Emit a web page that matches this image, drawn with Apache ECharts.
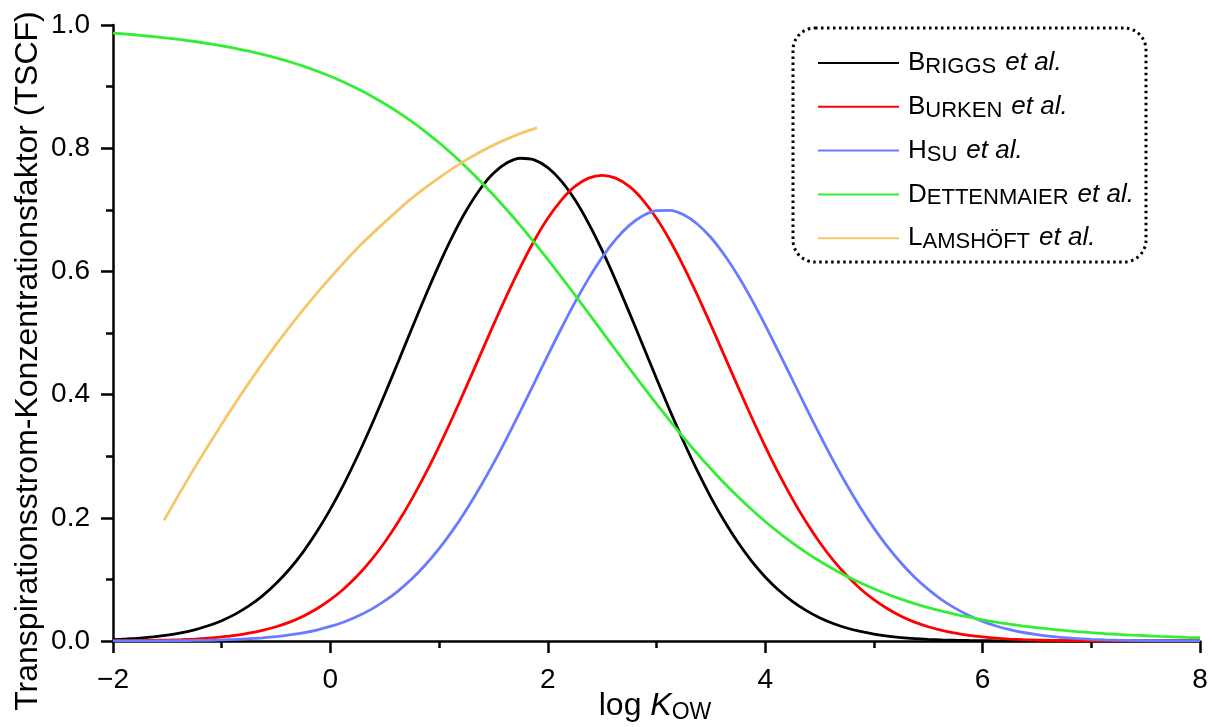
<!DOCTYPE html>
<html>
<head>
<meta charset="utf-8">
<title>TSCF vs log Kow</title>
<script src="https://cdn.jsdelivr.net/npm/echarts@6/dist/echarts.min.js"></script>
<style>
  html, body { margin: 0; padding: 0; background: #fff; }
  #chart { width: 1212px; height: 727px; }
</style>
</head>
<body>
<div id="chart"></div>
<script>
// log Kow sample positions shared by the four model curves (step 0.125)
const logK = [-2, -1.875, -1.75, -1.625, -1.5, -1.375, -1.25, -1.125, -1, -0.875, -0.75, -0.625,
  -0.5, -0.375, -0.25, -0.125, 0, 0.125, 0.25, 0.375, 0.5, 0.625, 0.75, 0.875,
  1, 1.125, 1.25, 1.375, 1.5, 1.625, 1.75, 1.875, 2, 2.125, 2.25, 2.375,
  2.5, 2.625, 2.75, 2.875, 3, 3.125, 3.25, 3.375, 3.5, 3.625, 3.75, 3.875,
  4, 4.125, 4.25, 4.375, 4.5, 4.625, 4.75, 4.875, 5, 5.125, 5.25, 5.375,
  5.5, 5.625, 5.75, 5.875, 6, 6.125, 6.25, 6.375, 6.5, 6.625, 6.75, 6.875,
  7, 7.125, 7.25, 7.375, 7.5, 7.625, 7.75, 7.875, 8];

const briggs = [0.0022, 0.0033, 0.0048, 0.0068, 0.0095, 0.0133, 0.0182, 0.0247, 0.0330, 0.0436, 0.0569, 0.0732,
  0.0932, 0.1169, 0.1448, 0.1772, 0.2140, 0.2551, 0.3003, 0.3491, 0.4006, 0.4538, 0.5076, 0.5605,
  0.6110, 0.6576, 0.6988, 0.7330, 0.7592, 0.7763, 0.7837, 0.7811, 0.7686, 0.7467, 0.7162, 0.6781,
  0.6340, 0.5851, 0.5331, 0.4797, 0.4260, 0.3735, 0.3234, 0.2764, 0.2332, 0.1943, 0.1598, 0.1298,
  0.1040, 0.0823, 0.0643, 0.0497, 0.0378, 0.0284, 0.0211, 0.0155, 0.0112, 0.0080, 0.0056, 0.0039,
  0.0027, 0.0018, 0.0012, 0.0008, 0.0005, 0.0003, 0.0002, 0.0001, 0.0001, 0.0001, 0.0000, 0.0000,
  0.0000, 0.0000, 0.0000, 0.0000, 0.0000, 0.0000, 0.0000, 0.0000, 0.0000];

const burken = [0.0003, 0.0005, 0.0007, 0.0010, 0.0015, 0.0022, 0.0032, 0.0046, 0.0066, 0.0091, 0.0126, 0.0172,
  0.0231, 0.0307, 0.0403, 0.0523, 0.0670, 0.0849, 0.1062, 0.1313, 0.1604, 0.1935, 0.2307, 0.2716,
  0.3161, 0.3633, 0.4126, 0.4629, 0.5131, 0.5619, 0.6079, 0.6498, 0.6862, 0.7158, 0.7379, 0.7514,
  0.7560, 0.7514, 0.7379, 0.7158, 0.6862, 0.6498, 0.6079, 0.5619, 0.5131, 0.4629, 0.4126, 0.3633,
  0.3161, 0.2716, 0.2307, 0.1935, 0.1604, 0.1313, 0.1062, 0.0849, 0.0670, 0.0523, 0.0403, 0.0307,
  0.0231, 0.0172, 0.0126, 0.0091, 0.0066, 0.0046, 0.0032, 0.0022, 0.0015, 0.0010, 0.0007, 0.0005,
  0.0003, 0.0002, 0.0001, 0.0001, 0.0000, 0.0000, 0.0000, 0.0000, 0.0000];

const hsu = [0.0001, 0.0001, 0.0002, 0.0003, 0.0004, 0.0006, 0.0009, 0.0012, 0.0018, 0.0026, 0.0037, 0.0052,
  0.0071, 0.0098, 0.0133, 0.0178, 0.0236, 0.0309, 0.0401, 0.0513, 0.0650, 0.0815, 0.1010, 0.1237,
  0.1499, 0.1795, 0.2127, 0.2491, 0.2884, 0.3303, 0.3740, 0.4188, 0.4637, 0.5077, 0.5496, 0.5883,
  0.6228, 0.6519, 0.6747, 0.6905, 0.6988, 0.6992, 0.6919, 0.6770, 0.6550, 0.6266, 0.5928, 0.5545,
  0.5128, 0.4691, 0.4242, 0.3794, 0.3354, 0.2933, 0.2536, 0.2168, 0.1833, 0.1532, 0.1267, 0.1035,
  0.0837, 0.0669, 0.0529, 0.0413, 0.0319, 0.0244, 0.0184, 0.0138, 0.0102, 0.0074, 0.0054, 0.0038,
  0.0027, 0.0019, 0.0013, 0.0009, 0.0006, 0.0004, 0.0003, 0.0002, 0.0001];

const dettenmaier = [0.9867, 0.9851, 0.9832, 0.9811, 0.9788, 0.9762, 0.9732, 0.9699, 0.9662, 0.9621, 0.9575, 0.9524,
  0.9466, 0.9403, 0.9332, 0.9253, 0.9167, 0.9071, 0.8965, 0.8849, 0.8721, 0.8582, 0.8431, 0.8266,
  0.8088, 0.7897, 0.7691, 0.7473, 0.7240, 0.6996, 0.6739, 0.6471, 0.6194, 0.5908, 0.5617, 0.5321,
  0.5023, 0.4724, 0.4428, 0.4136, 0.3849, 0.3571, 0.3301, 0.3043, 0.2796, 0.2562, 0.2341, 0.2134,
  0.1940, 0.1760, 0.1594, 0.1440, 0.1299, 0.1170, 0.1052, 0.0945, 0.0847, 0.0759, 0.0680, 0.0608,
  0.0543, 0.0485, 0.0433, 0.0386, 0.0344, 0.0306, 0.0273, 0.0243, 0.0216, 0.0192, 0.0171, 0.0152,
  0.0135, 0.0120, 0.0107, 0.0095, 0.0085, 0.0075, 0.0067, 0.0059, 0.0053];

// Lamshöft curve covers only part of the range
const lamshoftLogK = [-1.53, -1.25, -1, -0.75, -0.5, -0.25, 0, 0.25, 0.5, 0.75, 1, 1.25, 1.5, 1.75, 1.9];
const lamshoft = [0.196, 0.281, 0.352, 0.419, 0.481, 0.538, 0.590, 0.638, 0.680, 0.719, 0.752, 0.781,
  0.805, 0.824, 0.833];

const xTicks = [-2, 0, 2, 4, 6, 8];
const yTicks = [0, 0.2, 0.4, 0.6, 0.8, 1.0];

// legend labels: [series, large initial, small-caps rest, colour]
const authors = [
  ['Briggs', 'B', 'RIGGS', '#000000'],
  ['Burken', 'B', 'URKEN', '#ff0000'],
  ['Hsu', 'H', 'SU', '#6b7bff'],
  ['Dettenmaier', 'D', 'ETTENMAIER', '#33ee33'],
  ['Lamshöft', 'L', 'AMSHÖFT', '#f5c66a']
];

const FONT = '"Liberation Sans", Arial, Helvetica, sans-serif';

const pair = (xs, ys) => xs.map((x, i) => [x, ys[i]]);
const curves = {
  Briggs: pair(logK, briggs),
  Burken: pair(logK, burken),
  Hsu: pair(logK, hsu),
  Dettenmaier: pair(logK, dettenmaier),
  'Lamshöft': pair(lamshoftLogK, lamshoft)
};

const chart = echarts.init(document.getElementById('chart'), null, { renderer: 'canvas' });

const axisBlack = { color: '#000', width: 2.5 };

const option = {
  backgroundColor: '#ffffff',
  animation: false,
  grid: { left: 113, right: 12, top: 25, bottom: 86, containLabel: false, outerBoundsMode: 'none' },
  xAxis: {
    type: 'value',
    min: xTicks[0],
    max: xTicks[xTicks.length - 1],
    interval: 2,
    axisLine: { show: true, onZero: false, lineStyle: axisBlack },
    axisTick: { show: true, inside: false, length: 12, lineStyle: axisBlack },
    minorTick: { show: true, splitNumber: 2, length: 7, lineStyle: axisBlack },
    splitLine: { show: false },
    axisLabel: {
      color: '#000', fontFamily: FONT, fontSize: 28, margin: 25,
      formatter: v => String(v).replace('-', '\u2212')
    }
  },
  yAxis: {
    type: 'value',
    min: yTicks[0],
    max: yTicks[yTicks.length - 1],
    interval: 0.2,
    axisLine: { show: true, onZero: false, lineStyle: axisBlack },
    axisTick: { show: true, inside: false, length: 12, lineStyle: axisBlack },
    minorTick: { show: true, splitNumber: 2, length: 7, lineStyle: axisBlack },
    splitLine: { show: false },
    axisLabel: {
      color: '#000', fontFamily: FONT, fontSize: 28, margin: 23,
      formatter: v => v.toFixed(1)
    }
  },
  legend: {
    orient: 'vertical',
    left: 813,
    top: 45,
    itemWidth: 81,
    itemHeight: 20,
    itemGap: 15.8,
    icon: 'path://M0,9 L81,9 L81,11 L0,11 Z',
    data: authors.map(a => a[0]),
    formatter: name => {
      const a = authors.find(e => e[0] === name);
      return '{cap|' + a[1] + '}{sc|' + a[2] + '}{it|et al.}';
    },
    textStyle: {
      padding: [0, 0, 0, 4],
      rich: {
        cap: { fontFamily: FONT, fontSize: 26, color: '#000', lineHeight: 30 },
        sc: { fontFamily: FONT, fontSize: 22, color: '#000', lineHeight: 27, verticalAlign: 'bottom' },
        it: { fontFamily: FONT, fontSize: 26, fontStyle: 'italic', color: '#000', lineHeight: 30, padding: [0, 0, 0, 9] }
      }
    }
  },
  graphic: [
    {
      // y-axis title
      type: 'text',
      rotation: Math.PI / 2,
      x: 28,
      y: 361,
      style: {
        text: 'Transpirationsstrom-Konzentrationsfaktor (TSCF)',
        font: '32px ' + FONT,
        fill: '#000',
        align: 'center',
        verticalAlign: 'middle'
      }
    },
    {
      // x-axis title with subscript
      type: 'text',
      x: 655,
      y: 706,
      style: {
        text: '{n|log }{k|K}{s|OW}',
        align: 'center',
        verticalAlign: 'middle',
        rich: {
          n: { font: '32px ' + FONT, fill: '#000', lineHeight: 34 },
          k: { font: 'italic 32px ' + FONT, fill: '#000', lineHeight: 34 },
          s: { font: '23px ' + FONT, fill: '#000', lineHeight: 34, padding: [14, 0, 0, 0] }
        }
      }
    },
    {
      type: 'rect',
      shape: { x: 793, y: 28, width: 353, height: 234, r: 22 },
      style: { fill: 'none', stroke: '#000', lineWidth: 3, lineDash: [2.5, 3.5] },
      z: 10
    }
  ],
  series: authors.map(a => ({
    name: a[0],
    type: 'line',
    data: curves[a[0]],
    smooth: 0.3,
    symbol: 'none',
    clip: true,
    color: a[3],
    lineStyle: { color: a[3], width: 2.8 }
  }))
};

chart.setOption(option);
</script>
</body>
</html>
